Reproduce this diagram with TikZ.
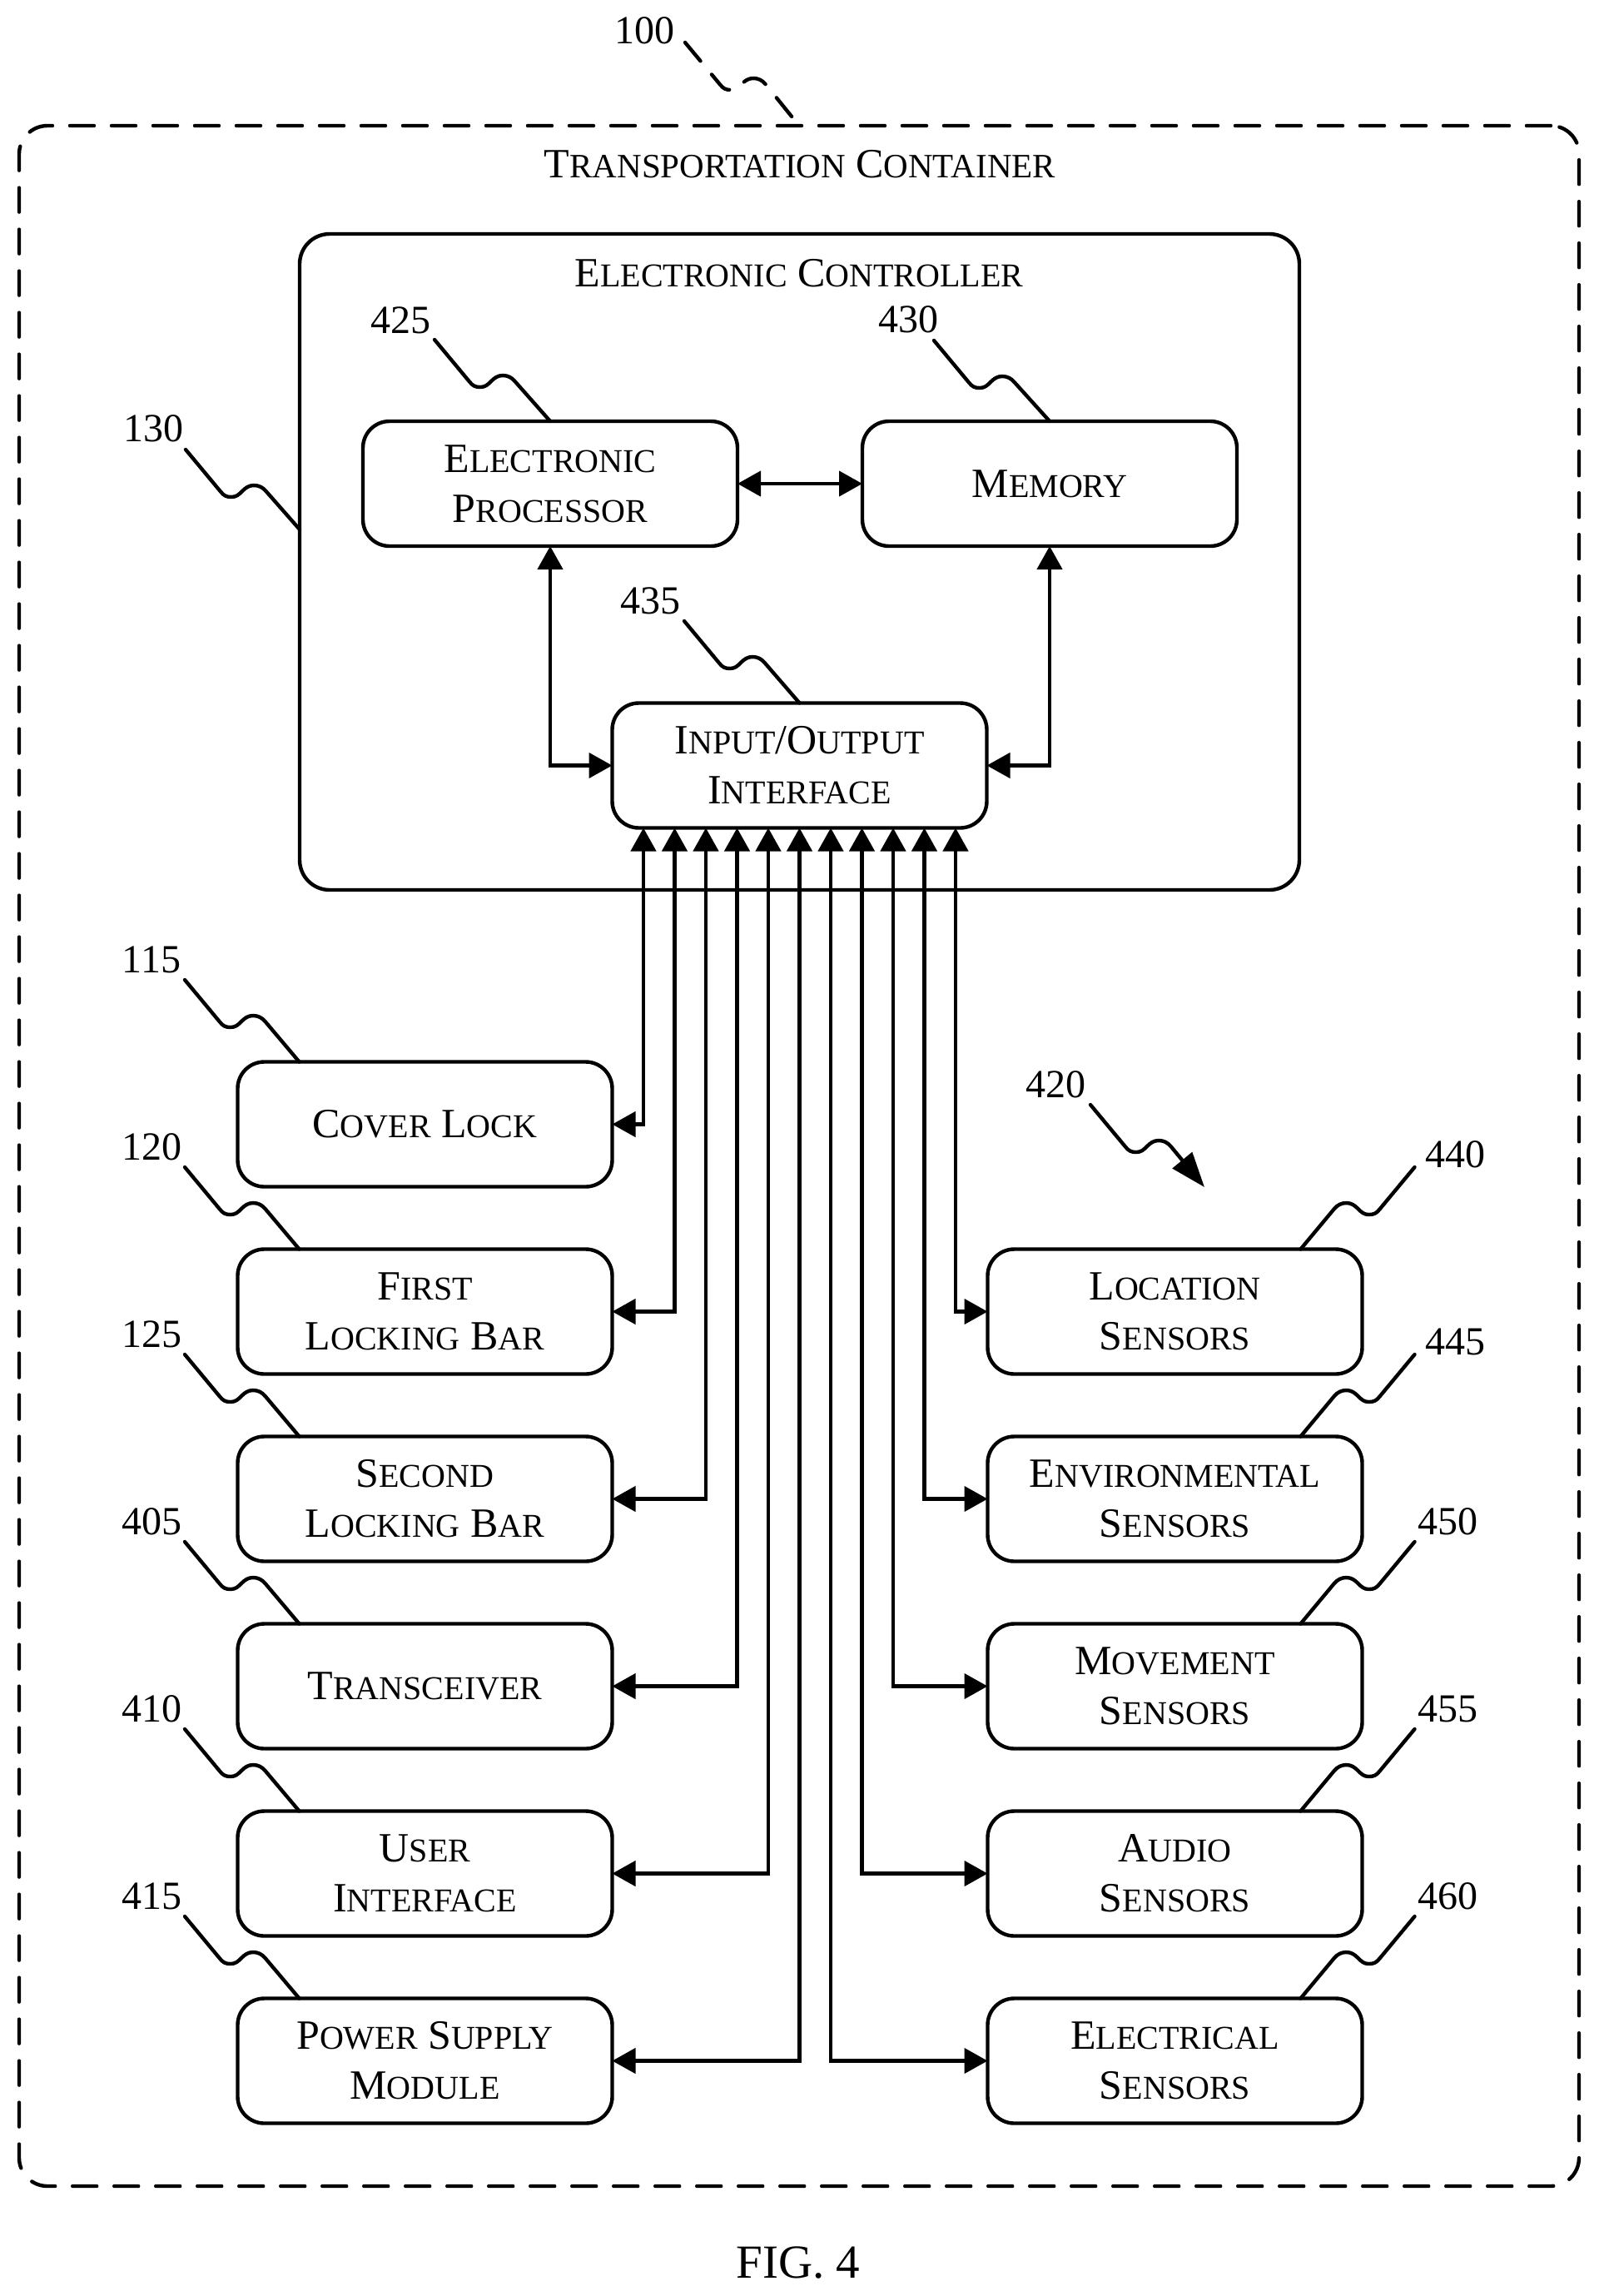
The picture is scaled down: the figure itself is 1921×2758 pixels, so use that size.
\documentclass[tikz,border=0pt]{standalone}
\usepackage{fontspec}
\setmainfont{Liberation Serif}
\usetikzlibrary{arrows.meta}
\newcommand{\sm}[1]{{\fontsize{20pt}{30pt}\selectfont #1}}
\newcommand{\smw}[1]{{\fontsize{20.5pt}{30pt}\selectfont #1}}
% #1 extra style, #2 start coordinate, #3 sign (1 = towards the right, -1 = mirrored), #4 end
\newcommand{\refline}[4][]{%
  \draw[reflead,#1] (#2) -- ++(#3*42,50.5)
    .. controls +(#3*4,5) and +(#3*-6,0) .. ++(#3*13,6.5)
    .. controls +(#3*6,0) and +(#3*-4,4) .. ++(#3*13,-7)
    .. controls +(#3*4,-4) and +(#3*-6,0) .. ++(#3*14,-7)
    .. controls +(#3*6,0) and +(#3*-4,-5) .. ++(#3*15,7.5)
    -- (#4);}
\tikzset{
  x=0.5pt, y=-0.5pt,
  reflead/.style={line width=2.2pt, line cap=round, line join=round},
  dashline/.style={dash pattern=on 14.5pt off 10.5pt},
  box/.style={draw, line width=2.2pt, rounded corners=16pt, minimum width=225pt, minimum height=75pt,
     inner sep=0pt, outer sep=0pt, align=center, font=\fontsize{25pt}{30pt}\selectfont},
  frame/.style={draw, line width=2.2pt, inner sep=0pt, outer sep=0pt},
  title/.style={inner sep=0pt, font=\fontsize{25pt}{30pt}\selectfont},
  num/.style={inner sep=0pt, font=\fontsize{24pt}{28pt}\selectfont},
  link/.style={line width=2.2pt, line join=miter, {Triangle[length=14pt,width=15pt]}-{Triangle[length=14pt,width=15pt]}},
}
\begin{document}
\begin{tikzpicture}
\useasboundingbox (0,0) rectangle (1921,2758);
\fill[white] (0,0) rectangle (1921,2758);

\node[frame, dashline, line cap=round, rounded corners=17pt, minimum width=937pt, minimum height=1237.5pt] (outer) at (960,1388.5) {};
\node[frame, rounded corners=18pt, minimum width=600.5pt, minimum height=394pt] (ctrl) at (960.5,675) {};
\node[title] (ttrans) at (961,197) {T\smw{RANSPORTATION} C\smw{ONTAINER}};
\node[title] (tctrl) at (960,328) {E\sm{LECTRONIC} C\sm{ONTROLLER}};

\node[box] (proc) at (661,581) {E\sm{LECTRONIC}\\P\sm{ROCESSOR}};
\node[box] (mem) at (1261,581) {M\sm{EMORY}};
\node[box] (io) at (960.5,919.5) {I\sm{NPUT}/O\sm{UTPUT}\\I\sm{NTERFACE}};

\node[box] (cover) at (510.5,1350.5) {C\sm{OVER} L\sm{OCK}};
\node[box] (first) at (510.5,1575.5) {F\sm{IRST}\\L\sm{OCKING} B\sm{AR}};
\node[box] (second) at (510.5,1800.5) {S\sm{ECOND}\\L\sm{OCKING} B\sm{AR}};
\node[box] (trans) at (510.5,2025.5) {T\sm{RANSCEIVER}};
\node[box] (ui) at (510.5,2250.5) {U\sm{SER}\\I\sm{NTERFACE}};
\node[box] (power) at (510.5,2475.5) {P\sm{OWER} S\sm{UPPLY}\\M\sm{ODULE}};

\node[box] (loc) at (1411.5,1575.5) {L\sm{OCATION}\\S\sm{ENSORS}};
\node[box] (env) at (1411.5,1800.5) {E\sm{NVIRONMENTAL}\\S\sm{ENSORS}};
\node[box] (mov) at (1411.5,2025.5) {M\sm{OVEMENT}\\S\sm{ENSORS}};
\node[box] (aud) at (1411.5,2250.5) {A\sm{UDIO}\\S\sm{ENSORS}};
\node[box] (elec) at (1411.5,2475.5) {E\sm{LECTRICAL}\\S\sm{ENSORS}};

\draw[link] (proc.east) -- (mem.west);
\draw[link] (proc.south) |- (io.west);
\draw[link] (mem.south) |- (io.east);
\foreach \k/\b in {-5/cover,-4/first,-3/second,-2/trans,-1/ui,0/power}
  \draw[link] ([xshift=\k*18.75pt]io.south) |- (\b.east);
\foreach \k/\b in {1/elec,2/aud,3/mov,4/env,5/loc}
  \draw[link] ([xshift=\k*18.75pt]io.south) |- (\b.west);

% reference numerals of the left column
\foreach \b/\n/\y in {cover/115/1275,first/120/1500,second/125/1725,trans/405/1950,ui/410/2175,power/415/2400}{
  \coordinate (s\n) at (222,\y-98);
  \node[num] (t\n) at (182,\y-122) {\n};
  \refline{s\n}{1}{[xshift=37pt]\b.north west}
}
% reference numerals of the right column
\foreach \b/\n/\y/\lx/\ly in {loc/440/1500/1748/1387,env/445/1725/1748/1612,mov/450/1950/1739/1828,aud/455/2175/1739/2053,elec/460/2400/1739/2278}{
  \coordinate (s\n) at (1699.5,\y-98);
  \node[num] (t\n) at (\lx,\ly) {\n};
  \refline{s\n}{-1}{[xshift=-37pt]\b.north east}
}
\node[num] (t100) at (774,37) {100};
\coordinate (s100) at (823,51);
\refline[dashline]{s100}{1}{outer.north}

\node[num] (t130) at (184,515) {130};
\coordinate (s130) at (223,540);
\coordinate (e130) at (360,636);
\refline{s130}{1}{e130}

\node[num] (t425) at (481,385) {425};
\coordinate (s425) at (522,408);
\refline{s425}{1}{proc.north}

\node[num] (t430) at (1091,384) {430};
\coordinate (s430) at (1122,409);
\refline{s430}{1}{mem.north}

\node[num] (t435) at (781,722) {435};
\coordinate (s435) at (822,746);
\refline{s435}{1}{io.north}

\node[num] (t420) at (1268,1303) {420};
\coordinate (s420) at (1310,1327);
\coordinate (e420) at (1447,1426);
\refline[-{Triangle[length=21pt,width=15pt]}]{s420}{1}{e420}

\node[inner sep=0pt, font=\fontsize{28.5pt}{32pt}\selectfont] (fig) at (959,2718) {FIG. 4};
\end{tikzpicture}
\end{document}
